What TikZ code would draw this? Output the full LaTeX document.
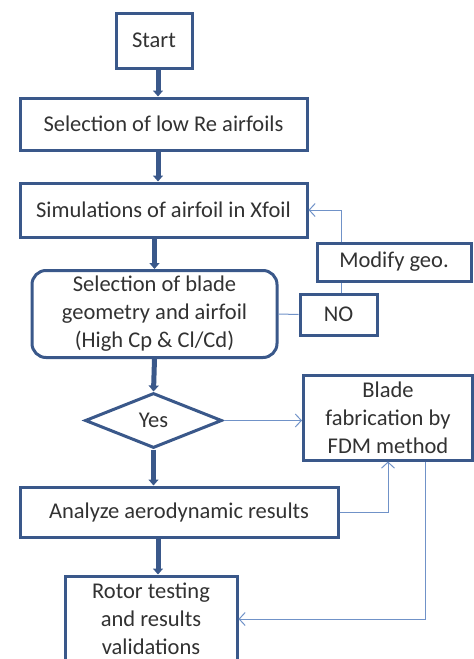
\documentclass[tikz,border=0pt]{standalone}
\usepackage{fontspec}
\setmainfont{Carlito}
\usetikzlibrary{shapes.geometric,arrows.meta}
\definecolor{boxblue}{RGB}{58,88,138}
\definecolor{linkblue}{RGB}{112,146,200}
\definecolor{txtgray}{RGB}{50,50,50}
\begin{document}
\begin{tikzpicture}[x=1pt,y=-1pt,
  procbox/.style={draw=boxblue,line width=3pt,fill=white,text=txtgray,align=center,
    inner sep=0pt,font=\fontsize{22.5}{28}\selectfont},
  thickarr/.style={draw=boxblue,line width=5pt,-{Triangle[width=10pt,length=6pt]}},
  thinarr/.style={draw=linkblue,line width=1pt,-{Straight Barb[length=6pt,width=13pt]}},
  thinline/.style={draw=linkblue,line width=1pt}]
\useasboundingbox (0,0) rectangle (474,659);
  \node[procbox,minimum width=76pt,minimum height=55pt] (start) at (154,40.5) {Start};
  \node[procbox,minimum width=287pt,minimum height=52pt] (selre) at (163.5,124) {Selection of low Re airfoils};
  \node[procbox,minimum width=287pt,minimum height=54pt] (sim) at (163.5,210) {Simulations of airfoil in Xfoil};
  \node[procbox,rounded corners=14pt,minimum width=245pt,minimum height=87pt] (blade) at (154.5,314)
    {Selection of blade\\geometry and airfoil\\(High Cp \& Cl/Cd)};
  \node[procbox,minimum width=154pt,minimum height=38pt] (modify) at (394,262) {Modify geo.};
  \node[procbox,minimum width=77pt,minimum height=41pt] (no) at (338.5,314.5) {NO};
  \node[procbox,diamond,aspect=2.5,minimum width=137pt,minimum height=55pt] (yes) at (153.5,420.5) {Yes};
  \node[procbox,minimum width=169pt,minimum height=85pt] (fab) at (388,417.5) {Blade\\fabrication by\\FDM method};
  \node[procbox,minimum width=318pt,minimum height=50pt] (analyze) at (179,512) {Analyze aerodynamic results};
  \node[procbox,minimum width=172pt,minimum height=86pt] (rotor) at (151,619) {Rotor testing\\and results\\validations};

\draw[thickarr] ([xshift=4pt]start.south) -- ([xshift=4pt]start.south |- selre.north);
\draw[thickarr] ([xshift=4pt]start.south |- selre.south) -- ([xshift=4pt]start.south |- sim.north);
\draw[thickarr] (blade.north |- sim.south) -- (blade.north);
\draw[thickarr] (blade.south) -- (yes.north);
\draw[thickarr] (yes.south) -- (yes.south |- analyze.north);
\draw[thickarr] ([xshift=4pt]start.south |- analyze.south) -- ([xshift=4pt]start.south |- rotor.north);
\draw[thinline] (blade.east) -- (no.west);
\draw[thinline] ([xshift=3pt]no.north) -- ([xshift=3pt]no.north |- modify.south);
\draw[thinarr] ([xshift=3pt]no.north |- modify.north) |- (sim.east);
\draw[thinarr] (yes.east) -- (yes.east -| fab.west);
\draw[thinarr] (analyze.east) -| (fab.south);
\draw[thinarr] ([xshift=37pt]fab.south) |- (rotor.east);
\end{tikzpicture}
\end{document}
